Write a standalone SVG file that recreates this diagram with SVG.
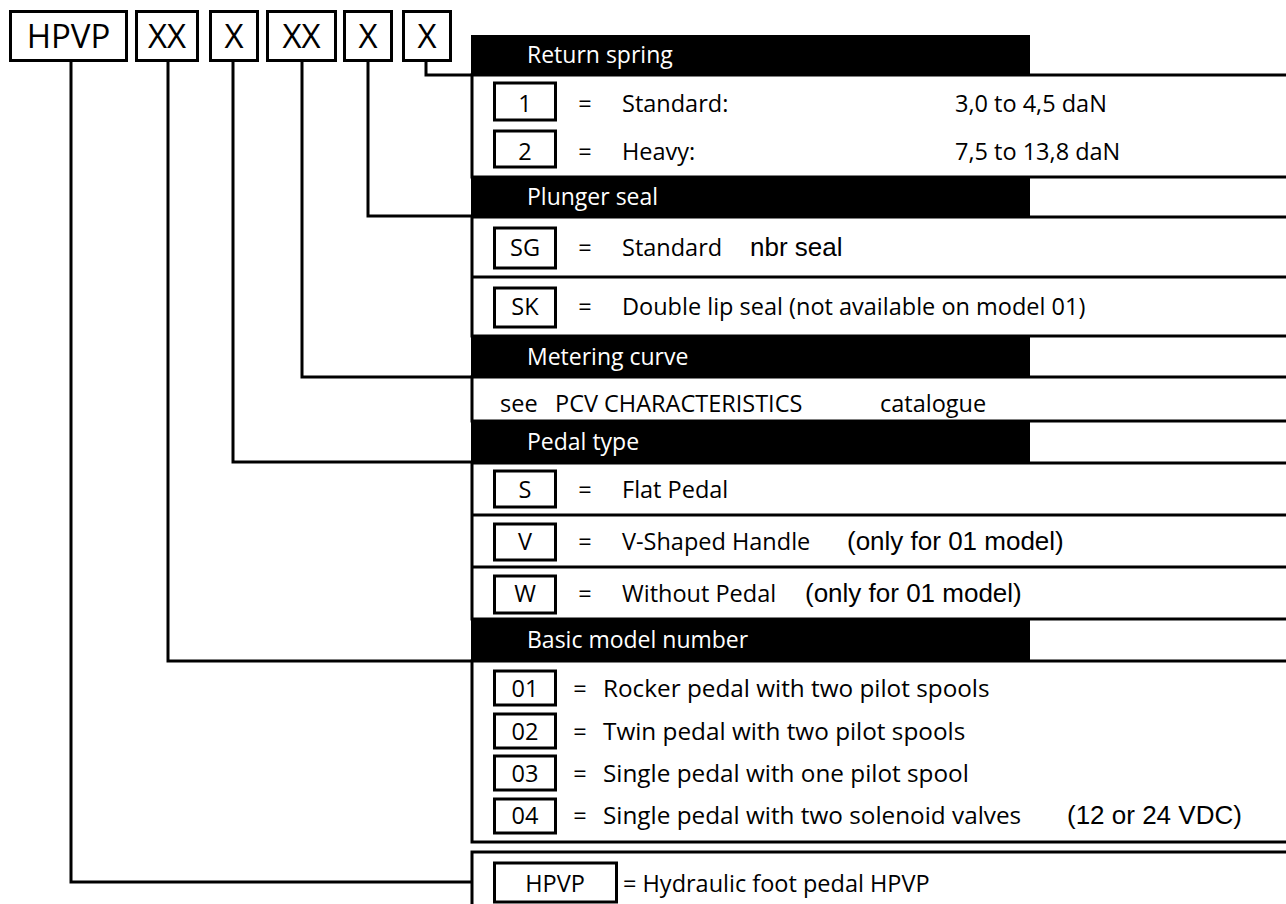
<svg xmlns="http://www.w3.org/2000/svg" width="1286" height="904" viewBox="0 0 1286 904">
<style>
.bg{fill:#fff}
.box{fill:#fff;stroke:#000;stroke-width:3}
.sec{fill:none;stroke:#000;stroke-width:3}
.hdr{fill:#000}
.ln{fill:none;stroke:#000;stroke-width:3}
.t{font-family:"Open Sans","Noto Sans",sans-serif;font-size:23.5px;fill:#000}
.e{font-size:24.3px}
.a{font-family:"Liberation Sans",Arial,sans-serif;font-size:26px;fill:#000}
.h{font-family:"Open Sans","Noto Sans",sans-serif;font-size:23px;fill:#fff}
.code{font-family:"Open Sans","Noto Sans",sans-serif;font-size:33px;fill:#000;text-anchor:middle}
.c{text-anchor:middle}
</style>
<rect class="bg" x="0" y="0" width="1286" height="904"/>

<g id="connectors">
<polyline class="ln" points="71,61 71,882 472,882"/>
<polyline class="ln" points="168,61 168,661 472,661"/>
<polyline class="ln" points="233,61 233,462 472,462"/>
<polyline class="ln" points="302,61 302,377 472,377"/>
<polyline class="ln" points="368,61 368,216 472,216"/>
<polyline class="ln" points="426,61 426,75 472,75"/>
</g>

<g id="code-hpvp"><rect class="box" x="10.5" y="11.5" width="116" height="49"/><text class="code" x="68.5" y="48">HPVP</text></g>
<g id="code-model"><rect class="box" x="136.5" y="11.5" width="61" height="49"/><text class="code" x="167" y="48">XX</text></g>
<g id="code-pedal"><rect class="box" x="210.5" y="11.5" width="47" height="49"/><text class="code" x="234" y="48">X</text></g>
<g id="code-metering"><rect class="box" x="267.5" y="11.5" width="68" height="49"/><text class="code" x="301.5" y="48">XX</text></g>
<g id="code-seal"><rect class="box" x="344.5" y="11.5" width="47" height="49"/><text class="code" x="368" y="48">X</text></g>
<g id="code-spring"><rect class="box" x="403.5" y="11.5" width="47" height="49"/><text class="code" x="427" y="48">X</text></g>

<g id="return-spring">
<rect class="hdr" x="471" y="35" width="559" height="40"/>
<text class="h" x="527" y="63">Return spring</text>
<rect class="sec" x="472" y="75" width="830" height="102"/>
<rect class="box" x="494.5" y="83" width="61" height="37"/><text class="t c" x="525" y="112">1</text>
<text class="t c" x="585" y="112">=</text><text class="t" x="622" y="112">Standard:</text><text class="t" x="955" y="112">3,0 to 4,5 daN</text>
<rect class="box" x="494.5" y="131" width="61" height="36"/><text class="t c" x="525" y="160">2</text>
<text class="t c" x="585" y="160">=</text><text class="t" x="622" y="160">Heavy:</text><text class="t" x="955" y="160">7,5 to 13,8 daN</text>
</g>

<g id="plunger-seal">
<rect class="hdr" x="471" y="177" width="559" height="40"/>
<text class="h" x="527" y="205">Plunger seal</text>
<rect class="sec" x="472" y="217" width="830" height="119"/>
<line class="ln" x1="472" y1="277" x2="1300" y2="277"/>
<rect class="box" x="494.5" y="228" width="61" height="40"/><text class="t c" x="525" y="256">SG</text>
<text class="t c" x="585" y="256">=</text><text class="t" x="622" y="256">Standard</text><text class="a" x="750" y="256">nbr seal</text>
<rect class="box" x="494.5" y="288" width="61" height="39"/><text class="t c" x="525" y="315">SK</text>
<text class="t c" x="585" y="315">=</text><text class="t" x="622" y="315">Double lip seal (not available on model 01)</text>
</g>

<g id="metering-curve">
<rect class="hdr" x="471" y="336" width="559" height="41"/>
<text class="h" x="527" y="365">Metering curve</text>
<rect class="sec" x="472" y="377" width="830" height="44"/>
<text class="t" x="500" y="412">see</text><text class="t" x="555" y="412">PCV CHARACTERISTICS</text><text class="t" x="880" y="412">catalogue</text>
</g>

<g id="pedal-type">
<rect class="hdr" x="471" y="421" width="559" height="42"/>
<text class="h" x="527" y="450">Pedal type</text>
<rect class="sec" x="472" y="463" width="830" height="156"/>
<line class="ln" x1="472" y1="515" x2="1300" y2="515"/>
<line class="ln" x1="472" y1="567" x2="1300" y2="567"/>
<rect class="box" x="494.5" y="471" width="61" height="36"/><text class="t c" x="525" y="498">S</text>
<text class="t c" x="585" y="498">=</text><text class="t" x="622" y="498">Flat Pedal</text>
<rect class="box" x="494.5" y="524" width="61" height="36"/><text class="t c" x="525" y="550">V</text>
<text class="t c" x="585" y="550">=</text><text class="t" x="622" y="550">V-Shaped Handle</text><text class="a" x="847" y="550">(only for 01 model)</text>
<rect class="box" x="494.5" y="576" width="61" height="37"/><text class="t c" x="525" y="602">W</text>
<text class="t c" x="585" y="602">=</text><text class="t" x="622" y="602">Without Pedal</text><text class="a" x="805" y="602">(only for 01 model)</text>
</g>

<g id="basic-model">
<rect class="hdr" x="471" y="619" width="559" height="42"/>
<text class="h" x="527" y="648">Basic model number</text>
<rect class="sec" x="472" y="661" width="830" height="181"/>
<rect class="box" x="494.5" y="671" width="61" height="34"/><text class="t c" x="525" y="697">01</text>
<text class="t c" x="580" y="697">=</text><text class="t e" x="603" y="697">Rocker pedal with two pilot spools</text>
<rect class="box" x="494.5" y="714" width="61" height="34"/><text class="t c" x="525" y="740">02</text>
<text class="t c" x="580" y="740">=</text><text class="t e" x="603" y="740">Twin pedal with two pilot spools</text>
<rect class="box" x="494.5" y="756" width="61" height="34"/><text class="t c" x="525" y="782">03</text>
<text class="t c" x="580" y="782">=</text><text class="t e" x="603" y="782">Single pedal with one pilot spool</text>
<rect class="box" x="494.5" y="799" width="61" height="34"/><text class="t c" x="525" y="824">04</text>
<text class="t c" x="580" y="824">=</text><text class="t e" x="603" y="824">Single pedal with two solenoid valves</text><text class="a" x="1067" y="824">(12 or 24 VDC)</text>
</g>

<g id="hpvp">
<rect class="sec" x="472" y="852" width="830" height="70"/>
<rect class="box" x="494.5" y="863" width="122" height="39"/><text class="t c" x="555" y="892">HPVP</text>
<text class="t" x="623" y="892">= Hydraulic foot pedal HPVP</text>
</g>
</svg>
